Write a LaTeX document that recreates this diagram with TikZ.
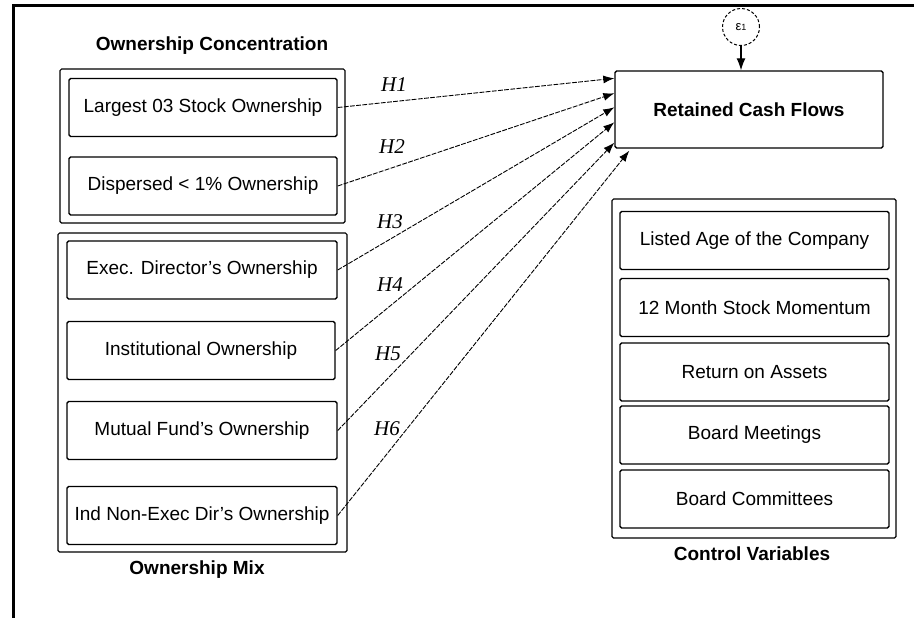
\documentclass[tikz,border=0pt]{standalone}
\usepackage{fontspec}
\setmainfont{Liberation Sans}
\newfontfamily\hypfont{Liberation Serif}
\usetikzlibrary{arrows.meta,calc}

\tikzset{
  grpbox/.style={draw,line width=0.6pt,rounded corners=0.8pt,inner sep=0pt},
  varbox/.style={draw,line width=0.7pt,rounded corners=0.8pt,inner sep=0pt,
    minimum width=134pt,minimum height=29pt,font=\fontsize{9.5}{11}\selectfont},
  grptitle/.style={font=\fontsize{9.5}{11}\selectfont\bfseries},
  hyp/.style={dash pattern=on 2.4pt off 0.7pt,line width=0.45pt,-{Latex[length=5.5pt,width=4pt]}},
  hyplabel/.style={font=\hypfont\itshape\fontsize{10.5}{12}\selectfont},
}

\begin{document}
\begin{tikzpicture}[x=0.5pt,y=-0.5pt]
  \useasboundingbox (0,0) rectangle (914,618);
  % frame
  \draw[line width=1.5pt] (914,5) -- (13,5) -- (13,618);

  % ownership concentration
  \node[grptitle] (octitle) at (212,46) {Ownership Concentration};
  \node[grpbox,minimum width=142.5pt,minimum height=77pt] (ocbox) at (202.5,146) {};
  \node[varbox] (lso) at (203,107.5) {Largest 03 Stock Ownership};
  \node[varbox] (dsp) at (203,186) {Dispersed < 1\% Ownership};

  % ownership mix
  \node[grpbox,minimum width=144.5pt,minimum height=159.5pt] (ombox) at (202.5,392.5) {};
  \node[varbox,minimum width=135pt] (edo) at (202,270) {Exec. Director's Ownership};
  \node[varbox] (ins) at (201,350.5) {Institutional Ownership};
  \node[varbox,minimum width=135pt] (mfo) at (202,430.5) {Mutual Fund's Ownership};
  \node[varbox,minimum width=135pt] (ind) at (202,515.5) {Ind Non-Exec Dir's Ownership};
  \node[grptitle] (omtitle) at (197,570) {Ownership Mix};

  % dependent variable and its error term
  \node[varbox,font=\fontsize{9.5}{11}\selectfont\bfseries,minimum height=38.5pt] (rcf) at (749,109.5) {Retained Cash Flows};
  \node[draw,circle,dash pattern=on 1.5pt off 1pt,line width=0.5pt,minimum size=18.5pt,inner sep=0pt,
    font=\fontsize{6.5}{7}\selectfont] (eps) at (741,27) {ε{\fontsize{4.5}{5}\selectfont 1}};
  \draw[line width=0.6pt,-{Latex[length=6pt,width=4.5pt]}] (eps) -- (eps |- rcf.north);

  % control variables
  \node[grpbox,minimum width=142pt,minimum height=169.5pt] (cvbox) at (754,368.5) {};
  \foreach \n/\y/\t in {lac/240.5/Listed Age of the Company, smm/307.5/12 Month Stock Momentum,
      roa/372/Return on Assets, bme/435/Board Meetings, bco/499/Board Committees}
    \node[varbox,minimum width=134.5pt] (\n) at (754.5,\y) {\t};
  \node[grptitle] (cvtitle) at (752,554) {Control Variables};

  % hypotheses
  \coordinate (t1) at ($(rcf.north west)+(0,8)$);
  \coordinate (t2) at ($(rcf.north west)+(0,23)$);
  \coordinate (t3) at ($(rcf.north west)+(0,37)$);
  \coordinate (t4) at ($(rcf.north west)+(0,52)$);
  \coordinate (t5) at ($(rcf.south west)+(0,-6)$);
  \coordinate (t6) at ($(rcf.south west)+(15,2)$);
  \foreach \s/\l/\x/\y in {lso/1/394/85, dsp/2/392/147, edo/3/390/222,
      ins/4/390/285, mfo/5/388/354, ind/6/387/429}{
    \draw[hyp] (\s.east) -- (t\l);
    \node[hyplabel] (h\l) at (\x,\y) {H\l};
  }
\end{tikzpicture}
\end{document}
